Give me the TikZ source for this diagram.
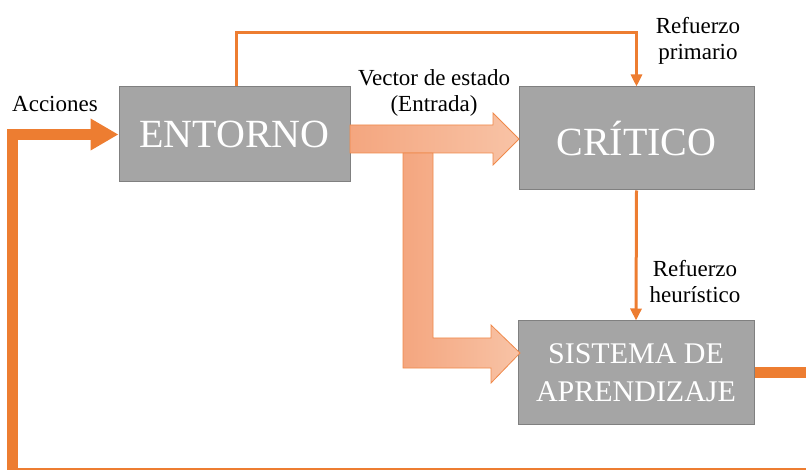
\documentclass[tikz,border=0pt]{standalone}
\usepackage{fontspec}
\setmainfont{Liberation Serif}
\usetikzlibrary{arrows.meta}
\definecolor{naranja}{HTML}{ED7D31}
\definecolor{naranjaborde}{HTML}{F0894A}
\definecolor{salmonA}{HTML}{F4A67F}
\definecolor{salmonB}{HTML}{F8C3A6}
\definecolor{gris}{HTML}{A5A5A5}
\definecolor{grisborde}{HTML}{808080}

\begin{document}
\begin{tikzpicture}[x=1pt,y=-1pt]
		\tikzstyle{bloque} = [rectangle, fill=gris, draw=grisborde, line width=1pt, text=white, inner sep=0pt, align=center]
		\tikzstyle{etiqueta} = [font=\fontsize{23}{26}\selectfont, align=center, inner sep=0pt]
		\tikzstyle{flecha} = [naranja, line width=3pt, -{Triangle[length=12pt,width=11pt]}]
		\tikzstyle{lazo} = [naranja, line width=11pt, -{Triangle[length=28pt,width=30pt]}]
		\tikzstyle{gruesa} = [draw=naranjaborde, line width=0.8pt, left color=salmonA, right color=salmonB]
		\useasboundingbox (0,0) rectangle (806,470);
		\clip (0,0) rectangle (806,470);
		% bloques
		\node (entorno) [bloque, minimum width=231pt, minimum height=95pt, font=\fontsize{40}{48}\selectfont] at (234.5,134.5) {ENTORNO};
		\node (critico) [bloque, minimum width=235pt, minimum height=103pt, font=\fontsize{40}{48}\selectfont] at (636.5,138.5) {CRÍTICO};
		\node (sistema) [bloque, minimum width=236pt, minimum height=103pt, font=\fontsize{30}{38}\selectfont] at (636,372.5) {SISTEMA DE\\APRENDIZAJE};
		% vector de estado
		\draw[gruesa] (350,125) -- (493,125) -- (493,113) -- (519,139) -- (493,165) -- (493,153) -- (350,153) -- cycle;
		\draw[gruesa] (403,153) -- (433,153) -- (433,338) -- (491,338) -- (491,325) -- (520,353) -- (491,383) -- (491,368) -- (403,368) -- cycle;
		% refuerzos
		\draw[flecha] ([xshift=1.5pt]entorno.north) -- ++(0,-54) -| (critico.north);
		\draw[flecha] (critico.south) -- (sistema.north);
		% acciones
		\coordinate (derecha) at (830,473.5);
		\coordinate (izquierda) at (12,473.5);
		\draw[lazo] (sistema.east) -| (derecha) -- (izquierda) |- (entorno.west);
		% etiquetas
		\node (acciones) [etiqueta, anchor=base] at (55,112) {Acciones};
		\node (vector) [etiqueta] at (434,93.2) {Vector de estado\\(Entrada)};
		\node (primario) [etiqueta] at (698,40.7) {Refuerzo\\primario};
		\node (heuristico) [etiqueta] at (695,281.7) {Refuerzo\\heurístico};
	\end{tikzpicture}
\end{document}
